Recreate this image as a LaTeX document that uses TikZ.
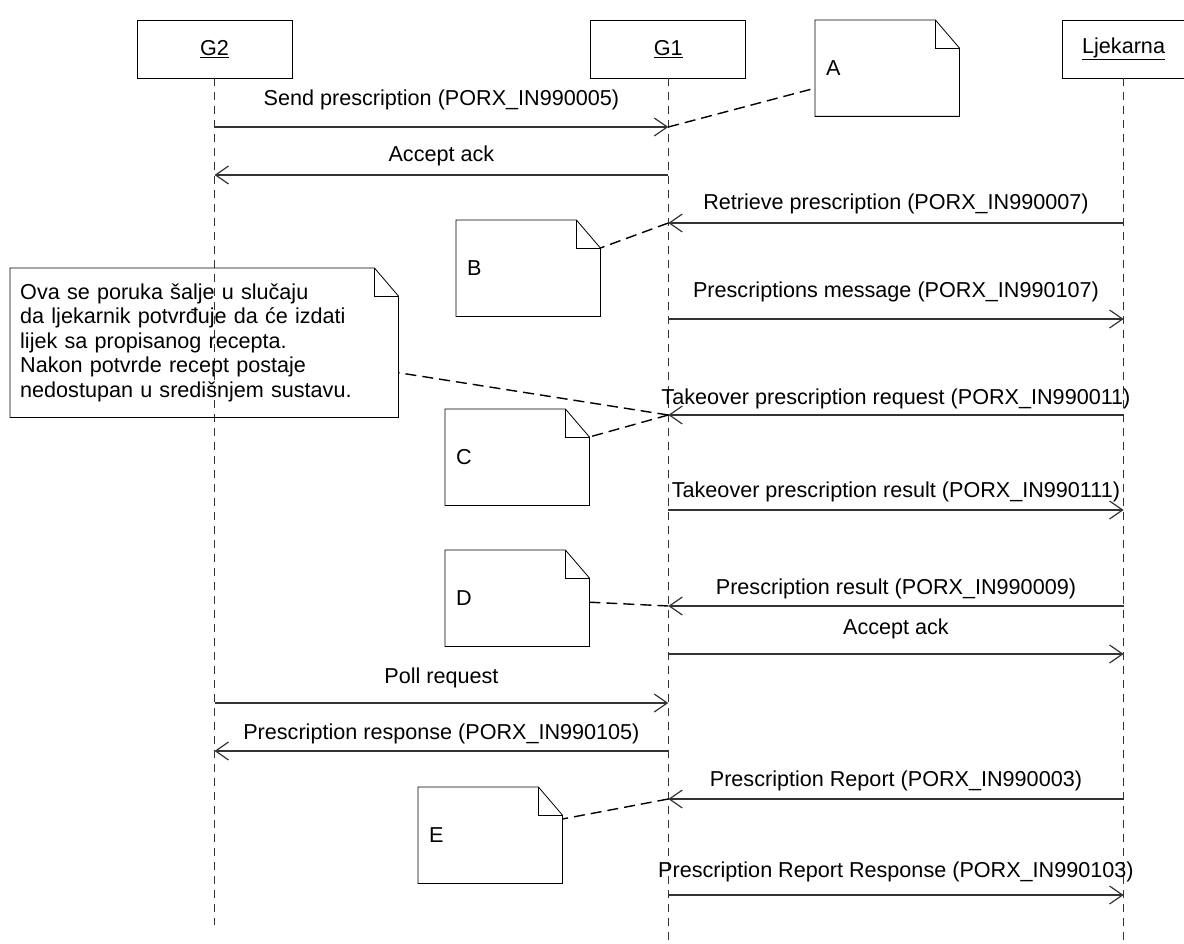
\documentclass[tikz,border=0pt]{standalone}
\usepackage{fontspec}
\setmainfont{Liberation Sans}
\usepackage{tikz}
\usetikzlibrary{arrows.meta,positioning}

\begin{document}
\begin{tikzpicture}[x=1pt,y=-1pt,
    font=\fontsize{21.6}{24.5}\selectfont,
    >={Straight Barb[length=13pt,width=18pt]},
    actor/.style={draw,minimum width=155pt,minimum height=58pt,line width=0.8pt},
    lifeline/.style={draw=black!80,dash pattern=on 8pt off 6pt,line width=0.9pt},
    msg/.style={->,draw=black!80,line width=1.2pt},
    lbl/.style={anchor=base,inner sep=0pt},
    note/.style={anchor=north west,minimum height=96pt,text width=122pt,inner xsep=11pt,align=left},
    notelink/.style={dash pattern=on 11pt off 6pt,line width=1.4pt}]

    \useasboundingbox (0,0) rectangle (1184,944);

    % Actors
    \node[actor] (g2) at (214.5,49) {\underline{G2}};
    \node[actor, right=298pt of g2] (g1) {\underline{G1}};
    \node[actor, minimum width=122pt, right=316pt of g1] (lj) {\underline{Ljekarna}};

    % Lifelines
    \coordinate (end2) at (0,925);
    \coordinate (end) at (0,944);
    \draw[lifeline] (g2.south) -- (g2.south |- end2);
    \draw[lifeline] (g1.south) -- (g1.south |- end);
    \draw[lifeline] (lj.south) -- (lj.south |- end);

    % Message rows
    \foreach \i/\y in {1/127,2/175,3/223,4/319,5/415,6/510,7/606,8/654,9/703,10/751,11/799,12/895} {
        \coordinate (m\i) at (0,\y);
    }

    % Messages
    \draw[msg] (g2 |- m1) -- node[lbl, yshift=21pt] {Send prescription (PORX\_IN990005)} (g1 |- m1);
    \draw[msg] (g1 |- m2) -- node[lbl, yshift=13pt] {Accept ack} (g2 |- m2);
    \draw[msg] (lj |- m3) -- node[lbl, yshift=13pt] {Retrieve prescription (PORX\_IN990007)} (g1 |- m3);
    \draw[msg] (g1 |- m4) -- node[lbl, yshift=21pt] {Prescriptions message (PORX\_IN990107)} (lj |- m4);
    \draw[msg] (lj |- m5) -- node[lbl, yshift=11pt] {Takeover prescription request (PORX\_IN990011)} (g1 |- m5);
    \draw[msg] (g1 |- m6) -- node[lbl, yshift=13pt] {Takeover prescription result (PORX\_IN990111)} (lj |- m6);
    \draw[msg] (lj |- m7) -- node[lbl, yshift=12pt] {Prescription result (PORX\_IN990009)} (g1 |- m7);
    \draw[msg] (g1 |- m8) -- node[lbl, yshift=20pt] {Accept ack} (lj |- m8);
    \draw[msg] (g2 |- m9) -- node[lbl, yshift=20pt] {Poll request} (g1 |- m9);
    \draw[msg] (g1 |- m10) -- node[lbl, yshift=12pt] {Prescription response (PORX\_IN990105)} (g2 |- m10);
    \draw[msg] (lj |- m11) -- node[lbl, yshift=13pt] {Prescription Report (PORX\_IN990003)} (g1 |- m11);
    \draw[msg] (g1 |- m12) -- node[lbl, yshift=18pt] {Prescription Report Response (PORX\_IN990103)} (lj |- m12);

    % Notes
    \node[note] (na) at (815,20) {A};
    \node[note] (nb) at (456,220) {B};
    \node[note] (nc) at (445,409) {C};
    \node[note] (nd) at (445,550) {D};
    \node[note] (ne) at (418,787) {E};
    \node[note, minimum height=149pt, text width=368pt, inner xsep=10pt] (nbig) at (10,268)
        {Ova se poruka šalje u slučaju\\
         da ljekarnik potvrđuje da će izdati\\
         lijek sa propisanog recepta.\\
         Nakon potvrde recept postaje\\
         nedostupan u središnjem sustavu.};

    % Dog-ears
    \foreach \n in {na,nb,nc,nd,ne,nbig} {
        \draw[line width=0.8pt] (\n.north west) -- ([xshift=-24pt]\n.north east)
            -- ([yshift=-28pt]\n.north east) -- (\n.south east) -- (\n.south west) -- cycle;
        \draw[line width=0.8pt] ([xshift=-24pt]\n.north east) |- ([yshift=-28pt]\n.north east);
    }

    % Note links
    \draw[notelink] (g1 |- m1) -- ([yshift=-20pt]na.west);
    \draw[notelink] (g1 |- m3) -- ([yshift=-28pt]nb.north east);
    \draw[notelink] (g1 |- m5) -- ([yshift=-28pt]nc.north east);
    \draw[notelink] (g1 |- m5) -- ([yshift=-30pt]nbig.east);
    \draw[notelink] (g1 |- m7) -- ([yshift=-4pt]nd.east);
    \draw[notelink] (g1 |- m11) -- ([yshift=-32pt]ne.north east);

\end{tikzpicture}
\end{document}
